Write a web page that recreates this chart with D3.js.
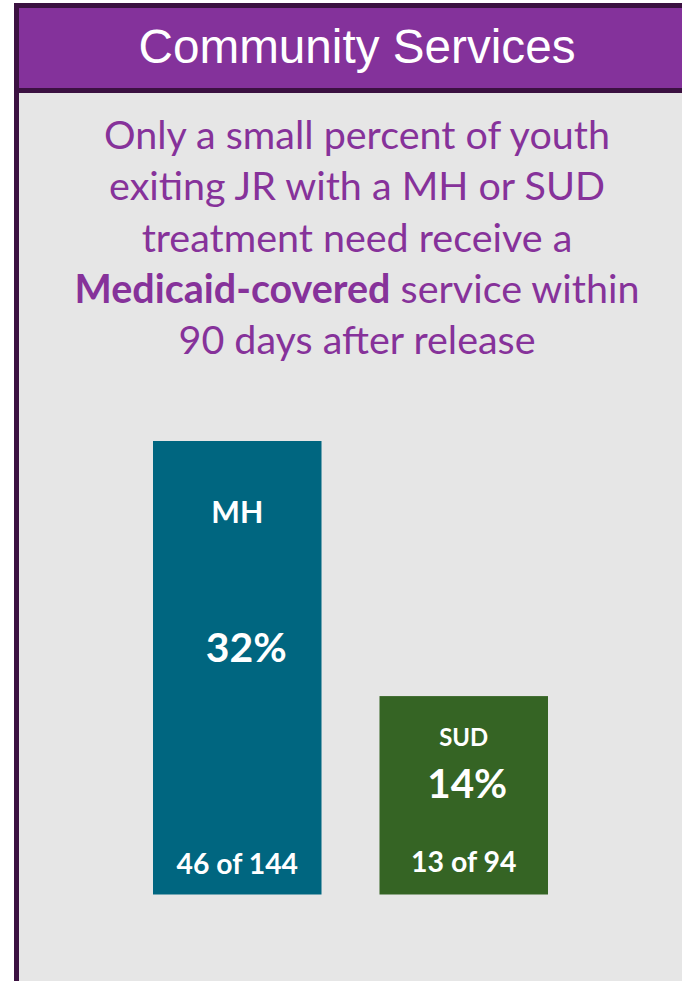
<!DOCTYPE html>
<html lang="en">
<head>
    <meta charset="UTF-8">
    <title>Community Services</title>
    <style>
        html, body {
            margin: 0;
            padding: 0;
            background: #fff;
        }
        svg {
            display: block;
        }
        .bar-label {
            font-family: Lato, "Noto Sans", sans-serif;
            font-weight: bold;
            fill: #fff;
            text-anchor: middle;
        }
    </style>
    <script src="https://cdn.jsdelivr.net/npm/d3@7"></script>
</head>
<body>

<svg id="main" width="682" height="981"></svg>
<script>

    // values
    var categories = ["MH", "SUD"];
    var percents = [32, 14];
    var served = [46, 13];
    var totals = [144, 94];
    var barColors = ["#006680", "#356424"];

    var title = "Community Services";
    var subtitleLines = [
        [{t: "Only a small percent of youth"}],
        [{t: "exiting JR with a MH or SUD"}],
        [{t: "treatment need receive a"}],
        [{t: "Medicaid-covered", b: true}, {t: " service within"}],
        [{t: "90 days after release"}]
    ];

    var svg = d3.select("#main"),
        width = +svg.attr("width"),
        height = +svg.attr("height");

    // frame: dark outline, purple header, grey body
    svg.append("rect")
        .attr("x", 14).attr("y", 3)
        .attr("width", width - 14).attr("height", height - 3)
        .attr("fill", "#3b1141");
    svg.append("rect")
        .attr("x", 19).attr("y", 8)
        .attr("width", width - 19).attr("height", 80)
        .attr("fill", "#84329b");
    svg.append("rect")
        .attr("x", 19).attr("y", 93)
        .attr("width", width - 19).attr("height", height - 93)
        .attr("fill", "#e6e6e6");

    // shrink/grow a text node's font so it spans a given width
    function fit(sel, target) {
        var size = parseFloat(sel.style("font-size"));
        var w = sel.node().getComputedTextLength();
        sel.style("font-size", (size * target / w) + "px");
        return size * target / w;
    }

    var cx = 357;

    var titleText = svg.append("text")
        .attr("x", cx)
        .attr("y", 63)
        .attr("text-anchor", "middle")
        .style("font-family", "'Liberation Sans', Arial, sans-serif")
        .style("font-size", "47.5px")
        .style("fill", "#fff")
        .text(title);
    fit(titleText, 437);

    var sub = svg.append("g")
        .style("font-family", "Lato, 'Noto Sans', sans-serif")
        .style("font-size", "38px")
        .style("fill", "#86329a");

    var lines = sub.selectAll("text")
        .data(subtitleLines)
        .enter().append("text")
        .attr("x", cx)
        .attr("y", function(d, i) { return 149 + i * 51.3; })
        .attr("text-anchor", "middle");

    lines.selectAll("tspan")
        .data(function(d) { return d; })
        .enter().append("tspan")
        .style("font-weight", function(d) { return d.b ? "bold" : "normal"; })
        .text(function(d) { return d.t; });

    // scale whole subtitle off the first line width
    var first = lines.filter(function(d, i) { return i === 0; });
    var subSize = 38 * 506 / first.node().getComputedTextLength();
    sub.style("font-size", subSize + "px");

    // bars
    var x = d3.scaleBand()
        .domain(categories)
        .range([153, 548])
        .paddingInner(0.256)
        .paddingOuter(0);

    var y = d3.scaleLinear()
        .domain([0, 32])
        .range([894.5, 441]);

    var data = categories.map(function(c, i) {
        return {cat: c, pct: percents[i], n: served[i], total: totals[i], color: barColors[i]};
    });

    var g = svg.append("g");

    g.selectAll(".bar")
        .data(data)
        .enter().append("rect")
        .attr("class", "bar")
        .attr("x", function(d) { return x(d.cat); })
        .attr("y", function(d) { return y(d.pct); })
        .attr("width", x.bandwidth())
        .attr("height", function(d) { return y(0) - y(d.pct); })
        .attr("fill", function(d) { return d.color; });

    // text boxes sit a little differently in each bar on the slide
    var labelLayout = {
        MH:  {nameDy: 82, nameW: 52, pctDy: 221, pctDx: 9, pctW: 81, countDy: -20.5, countW: 121.6},
        SUD: {nameDy: 50, nameW: 49, pctDy: 102, pctDx: 3.5, pctW: 80, countDy: -23, countW: 105.6}
    };

    data.forEach(function(d) {
        var L = labelLayout[d.cat],
            mid = x(d.cat) + x.bandwidth() / 2,
            top = y(d.pct),
            base = y(0);

        var name = g.append("text")
            .attr("class", "bar-label")
            .attr("x", mid)
            .attr("y", top + L.nameDy)
            .style("font-size", "30px")
            .text(d.cat);
        fit(name, L.nameW);

        var pct = g.append("text")
            .attr("class", "bar-label")
            .attr("x", mid + L.pctDx)
            .attr("y", top + L.pctDy)
            .style("font-size", "40px")
            .text(d.pct + "%");
        fit(pct, L.pctW);

        var cnt = g.append("text")
            .attr("class", "bar-label")
            .attr("x", mid)
            .attr("y", base + L.countDy)
            .style("font-size", "28px")
            .text(d.n + " of " + d.total);
        fit(cnt, L.countW);
    });

</script>

</body>
</html>
